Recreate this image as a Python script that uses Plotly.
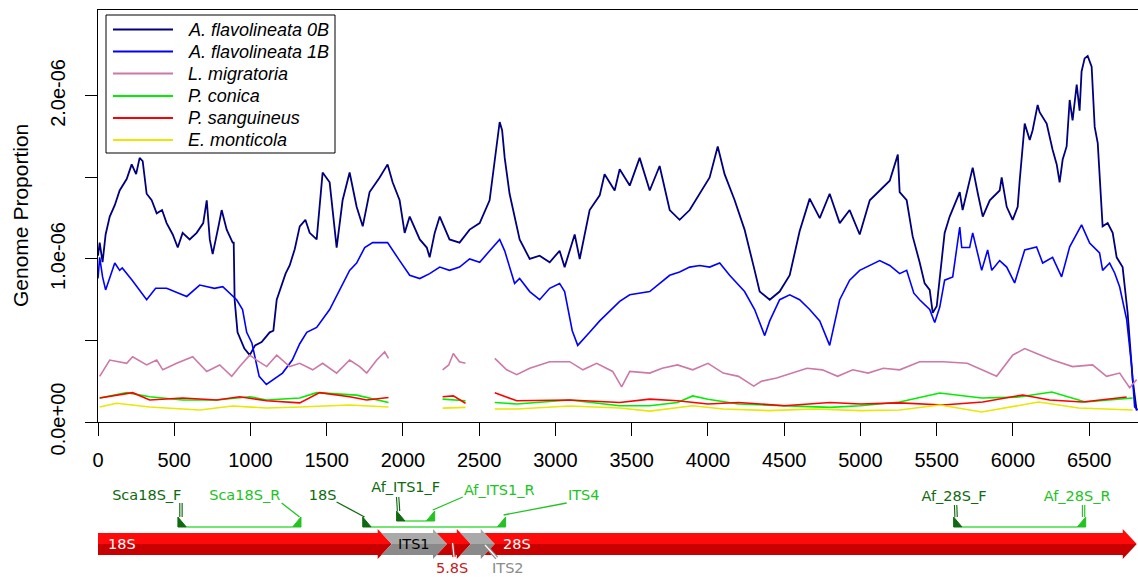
import plotly.graph_objects as go

SCALE = 1e-6  # values below are in units of 1e-6

SERIES_NAMES = ["A. flavolineata 0B", "A. flavolineata 1B", "L. migratoria",
                "P. conica", "P. sanguineus", "E. monticola"]
SERIES_COLORS = ["#00007f", "#0000ff", "#cc79a7", "#00ee00", "#ff0000", "#e8e800"]
SERIES_WIDTHS = [1.8, 1.6, 1.6, 1.6, 1.6, 1.6]

X_0B = [0, 11, 30, 50, 77, 110, 142, 188, 221, 250, 273, 293, 319, 352, 385, 420, 450, 490,
        523, 555, 601, 647, 690, 713, 733, 752, 790, 811, 844, 883, 890, 896, 915, 960, 995,
        1030, 1073, 1126, 1150, 1172, 1230, 1257, 1290, 1323, 1360, 1388, 1434, 1473, 1519,
        1540, 1565, 1604, 1650, 1696, 1736, 1781, 1847, 1899, 1932, 1978, 2011, 2044, 2110,
        2156, 2175, 2208, 2241, 2305, 2371, 2437, 2503, 2568, 2601, 2634, 2650, 2667, 2699,
        2732, 2765, 2831, 2896, 2962, 3027, 3060, 3126, 3159, 3224, 3290, 3322, 3388, 3421,
        3487, 3552, 3618, 3683, 3749, 3814, 3880, 3946, 4011, 4064, 4109, 4175, 4240, 4306,
        4339, 4405, 4470, 4536, 4601, 4667, 4733, 4798, 4864, 4929, 4995, 5061, 5126, 5192,
        5245, 5257, 5303, 5342, 5388, 5421, 5454, 5474, 5500, 5532, 5552, 5585, 5618, 5651,
        5670, 5736, 5770, 5802, 5848, 5913, 5926, 5959, 5998, 6031, 6044, 6077, 6110, 6129,
        6162, 6175, 6221, 6260, 6287, 6306, 6326, 6352, 6372, 6391, 6418, 6437, 6450, 6470,
        6490, 6516, 6536, 6556, 6588, 6621, 6654, 6680, 6719, 6752, 6785, 6811]
Y_0B = [1.02, 1.10, 0.98, 1.15, 1.26, 1.33, 1.42, 1.49, 1.58, 1.52, 1.62, 1.60, 1.40, 1.36,
        1.28, 1.30, 1.22, 1.15, 1.07, 1.16, 1.12, 1.16, 1.22, 1.36, 1.12, 1.03, 1.20, 1.30,
        1.18, 1.10, 1.10, 0.75, 0.55, 0.45, 0.41, 0.47, 0.49, 0.55, 0.56, 0.75, 0.91, 0.96,
        1.06, 1.20, 1.24, 1.16, 1.12, 1.53, 1.47, 1.30, 1.07, 1.36, 1.53, 1.32, 1.20, 1.41,
        1.50, 1.58, 1.47, 1.36, 1.16, 1.26, 1.12, 1.07, 1.01, 1.16, 1.26, 1.12, 1.10, 1.18,
        1.22, 1.36, 1.60, 1.84, 1.79, 1.62, 1.40, 1.25, 1.12, 1.00, 1.02, 0.98, 1.05, 0.95,
        1.15, 1.00, 1.30, 1.39, 1.52, 1.42, 1.55, 1.45, 1.62, 1.42, 1.57, 1.30, 1.24, 1.30,
        1.40, 1.50, 1.69, 1.52, 1.36, 1.18, 0.93, 0.80, 0.75, 0.80, 0.90, 1.17, 1.37, 1.25,
        1.40, 1.22, 1.30, 1.15, 1.36, 1.42, 1.48, 1.64, 1.41, 1.36, 1.14, 0.98, 0.85, 0.81,
        0.67, 0.71, 0.98, 1.16, 1.26, 1.34, 1.41, 1.30, 1.56, 1.40, 1.26, 1.36, 1.42, 1.50,
        1.32, 1.24, 1.32, 1.48, 1.83, 1.73, 1.79, 1.945, 1.90, 1.83, 1.67, 1.58, 1.47, 1.61,
        1.69, 1.975, 1.85, 2.07, 1.91, 2.15, 2.23, 2.245, 2.18, 1.81, 1.71, 1.20, 1.22, 1.16,
        1.01, 0.95, 0.67, 0.26, 0.07]

X_1B = [0, 11, 30, 50, 110, 142, 159, 224, 319, 378, 450, 582, 667, 764, 818, 883, 909, 948,
        975, 1009, 1057, 1104, 1210, 1274, 1323, 1369, 1434, 1519, 1585, 1650, 1696, 1749,
        1801, 1899, 1978, 2044, 2110, 2175, 2241, 2305, 2371, 2437, 2503, 2568, 2634, 2667,
        2699, 2732, 2765, 2831, 2896, 2962, 3027, 3060, 3110, 3146, 3224, 3290, 3421, 3487,
        3618, 3749, 3814, 3880, 3946, 4011, 4077, 4142, 4240, 4306, 4372, 4405, 4470, 4536,
        4601, 4667, 4733, 4798, 4864, 4929, 4995, 5061, 5126, 5192, 5257,
        5303, 5350, 5388, 5454, 5487, 5520, 5552, 5605, 5651, 5664, 5716, 5736, 5795, 5834,
        5861, 5913, 5959, 6011, 6077, 6155, 6195, 6260, 6319, 6372, 6450, 6503, 6568, 6588,
        6634, 6667, 6700, 6746, 6779, 6798, 6818]
Y_1B = [0.88, 1.01, 0.89, 0.81, 0.975, 0.93, 0.945, 0.87, 0.75, 0.82, 0.82, 0.77, 0.84,
        0.82, 0.83, 0.77, 0.75, 0.69, 0.55, 0.485, 0.28, 0.23, 0.30, 0.38, 0.48, 0.55, 0.58,
        0.69, 0.81, 0.93, 0.975, 1.07, 1.10, 1.10, 0.99, 0.90, 0.88, 0.91, 0.95, 0.93, 0.95,
        1.00, 0.98, 1.05, 1.12, 1.05, 0.95, 0.85, 0.88, 0.80, 0.75, 0.82, 0.85, 0.80, 0.56,
        0.47, 0.55, 0.62, 0.74, 0.78, 0.80, 0.90, 0.92, 0.95, 0.96, 0.95, 0.975, 0.90, 0.80,
        0.69, 0.53, 0.62, 0.75, 0.78, 0.75, 0.69, 0.62, 0.47, 0.75, 0.87, 0.93, 0.96, 0.99,
        0.96, 0.91,
        0.93, 0.79, 0.75, 0.69, 0.61, 0.705, 0.87, 0.89, 1.196,
        1.07, 1.07, 1.16, 0.93, 1.055, 0.93, 0.99, 0.95, 0.853, 1.055, 1.074, 0.975, 1.01,
        0.89, 1.074, 1.209, 1.098, 1.037, 0.93, 0.975, 0.914, 0.828, 0.626, 0.337, 0.092,
        0.074]

X_LM = [11, 77, 188, 227, 319, 385, 425, 516, 621, 713, 798, 877, 929, 995, 1040, 1106, 1172,
        1257, 1323, 1408, 1473, 1565, 1650, 1716, 1762, 1828, 1880, 1905, None,
        2260, 2300, 2330, 2370, 2410, None,
        2602, 2680, 2746, 2831, 2962, 3093, 3180, 3270, 3375, 3434, 3487, 3618, 3700, 3800,
        3900, 4000, 4100, 4200, 4300, 4350, 4450, 4550, 4650, 4750, 4850, 4950, 5050, 5150,
        5257, 5388, 5540, 5700, 5893, 5998, 6077, 6155, 6260, 6391, 6522, 6614, 6700, 6765,
        6811]
Y_LM = [0.28, 0.38, 0.36, 0.40, 0.35, 0.38, 0.32, 0.36, 0.40, 0.31, 0.35, 0.28, 0.34, 0.41,
        0.38, 0.34, 0.41, 0.34, 0.36, 0.32, 0.36, 0.30, 0.38, 0.34, 0.30, 0.38, 0.43, 0.39,
        None,
        0.32, 0.35, 0.42, 0.37, 0.36, None,
        0.39, 0.32, 0.29, 0.33, 0.37, 0.37, 0.32, 0.36, 0.31, 0.215, 0.31, 0.30, 0.33, 0.35,
        0.32, 0.36, 0.30, 0.28, 0.22, 0.25, 0.27, 0.30, 0.33, 0.32, 0.28, 0.32, 0.30, 0.33,
        0.32, 0.37, 0.37, 0.36, 0.28, 0.41, 0.45, 0.42, 0.38, 0.34, 0.35, 0.28, 0.30, 0.21,
        0.26]

X_PC = [11, 188, 339, 555, 778, 995, 1106, 1323, 1434, 1696, 1905, None, 2260, 2410, None,
        2602, 2746, 3093, 3421, 3618, 3800, 3900, 4000, 4200, 4500, 4800, 5000, 5257, 5520,
        5795, 6037, 6255, 6475, 6785]
Y_PC = [0.147, 0.18, 0.155, 0.135, 0.135, 0.155, 0.135, 0.147, 0.18, 0.165, 0.12, None,
        0.14, 0.13, None,
        0.12, 0.11, 0.135, 0.10, 0.10, 0.12, 0.16, 0.14, 0.11, 0.10, 0.09, 0.10, 0.123, 0.178,
        0.147, 0.153, 0.184, 0.123, 0.147]

X_PS = [11, 227, 339, 555, 778, 929, 1106, 1323, 1454, 1650, 1762, 1905, None,
        2260, 2330, 2410, None,
        2602, 2746, 3093, 3421, 3618, 3800, 4000, 4200, 4500, 4800, 5000, 5257, 5540, 5802,
        6064, 6241, 6457, 6746]
Y_PS = [0.147, 0.18, 0.135, 0.147, 0.135, 0.155, 0.13, 0.117, 0.18, 0.155, 0.135, 0.15, None,
        0.155, 0.16, 0.115, None,
        0.18, 0.13, 0.135, 0.12, 0.14, 0.13, 0.11, 0.12, 0.10, 0.12, 0.11, 0.117, 0.104,
        0.123, 0.166, 0.135, 0.123, 0.153]

X_EM = [11, 122, 339, 667, 883, 1106, 1323, 1650, 1905, None, 2260, 2410, None,
        2602, 2746, 3093, 3421, 3618, 3900, 4100, 4400, 4700, 5000, 5257, 5520, 5795, 6168,
        6431, 6785]
Y_EM = [0.092, 0.115, 0.092, 0.074, 0.098, 0.086, 0.092, 0.104, 0.092, None, 0.085, 0.09,
        None,
        0.08, 0.08, 0.098, 0.086, 0.067, 0.10, 0.08, 0.07, 0.08, 0.07, 0.074, 0.104, 0.061,
        0.123, 0.086, 0.074]

X_TICKS = list(range(0, 7000, 500))
Y_TICKS = [0.0, 0.5, 1.0, 1.5, 2.0]
Y_TICK_TEXT = ["0.0e+00", "", "1.0e-06", "", "2.0e-06"]

# Sequence features (bp)
FEAT_NAMES = ["18S", "ITS1", "5.8S", "ITS2", "28S"]
FEAT_START = [0, 1926, 2289, 2445, 2602]
FEAT_END = [1926, 2289, 2445, 2602, 6812]
FEAT_KIND = ["rRNA", "spacer", "rRNA", "spacer", "rRNA"]

# Primers (bp of 5' end) and direction
PRIMER_NAMES = ["Sca18S_F", "Sca18S_R", "18S", "Af_ITS1_F", "Af_ITS1_R", "ITS4",
                "Af_28S_F", "Af_28S_R"]
PRIMER_SITE = [524, 1331, 1736, 1958, 2208, 2673, 5611, 6477]
PRIMER_DIR = ["F", "R", "F", "F", "R", "R", "F", "R"]
PRIMER_PAIRS = [("Sca18S_F", "Sca18S_R"), ("18S", "ITS4"), ("Af_ITS1_F", "Af_ITS1_R"),
                ("Af_28S_F", "Af_28S_R")]

# ---------------------------------------------------------------- styles / layout
W, H = 1138, 577
ML, MT = 98, 10
PW_PX, PH_PX = W - ML, H - MT
X_MAX = 6820
Y_MAX = 2.527
FONT = "Liberation Sans, Arial, Helvetica, sans-serif"
TFONT = "DejaVu Sans, sans-serif"
DARK_G = "#0f6a0f"
BRIGHT_G = "#22c322"
LINK_G = "#44dd44"


def px(xp):
    return (xp - ML) / PW_PX


def py(yp):
    return (H - yp) / PH_PX


fig = go.Figure()

xs_all = [X_0B, X_1B, X_LM, X_PC, X_PS, X_EM]
ys_all = [Y_0B, Y_1B, Y_LM, Y_PC, Y_PS, Y_EM]
for name, col, lw, xs, ys in zip(SERIES_NAMES, SERIES_COLORS, SERIES_WIDTHS, xs_all, ys_all):
    fig.add_trace(go.Scatter(
        x=xs, y=[None if v is None else v * SCALE for v in ys], mode="lines",
        name=name, line=dict(color=col, width=lw), connectgaps=False,
        hoverinfo="skip", showlegend=False))

shapes = []
annotations = []

# ---- manual legend (R-style box)
shapes.append(dict(type="rect", xref="paper", yref="paper", x0=px(106), x1=px(335),
                   y0=py(153), y1=py(15), line=dict(color="black", width=1),
                   fillcolor="white", layer="above"))
LEG_ROWS = [29.5, 51.5, 73.5, 96, 118, 140]
for name, col, r in zip(SERIES_NAMES, SERIES_COLORS, LEG_ROWS):
    shapes.append(dict(type="line", xref="paper", yref="paper", x0=px(113), x1=px(173),
                       y0=py(r), y1=py(r), line=dict(color=col, width=2), layer="above"))
    annotations.append(dict(x=px(186), y=py(r), xref="paper", yref="paper", text=name,
                            showarrow=False, xanchor="left", yanchor="middle",
                            font=dict(family=FONT, size=18, color="black", style="italic")))

# y-axis title
annotations.append(dict(x=px(20), y=py(216), xref="paper", yref="paper",
                        text="Genome Proportion", showarrow=False, textangle=-90,
                        xanchor="center", yanchor="middle",
                        font=dict(family=FONT, size=21, color="black")))

# ---- feature track (y2 units: minus screen pixel row)
C = -544
BH = 11
HH = 15
HEAD = 92  # bp


def arrow_half(s, e, notch, upper):
    sgn = 1 if upper else -1
    body = C + sgn * BH
    head = C + sgn * HH
    lx = s - HEAD * BH / HH if notch else s
    pts = [(lx, body), (e - HEAD, body), (e - HEAD, head), (e, C), (s, C)]
    return "M" + " L".join(f"{x},{y}" for x, y in pts) + " Z"


fill_up = {"rRNA": "#ff0a0a", "spacer": "#a9a9a9"}
fill_lo = {"rRNA": "#c80000", "spacer": "#8a8a8a"}
for i, (s, e, k) in enumerate(zip(FEAT_START, FEAT_END, FEAT_KIND)):
    notch = i > 0
    for upper in (True, False):
        shapes.append(dict(type="path", xref="x", yref="y2",
                           path=arrow_half(s, e, notch, upper),
                           fillcolor=fill_up[k] if upper else fill_lo[k],
                           line=dict(width=0), layer="above"))

# primer links
BASE = {"Af_ITS1_F": -521, "Af_ITS1_R": -521}
site = dict(zip(PRIMER_NAMES, PRIMER_SITE))
pdir = dict(zip(PRIMER_NAMES, PRIMER_DIR))
PW = 55  # glyph width bp
PH = 10
for a, b in PRIMER_PAIRS:
    yb = BASE.get(a, -527)
    shapes.append(dict(type="line", xref="x", yref="y2", x0=site[a] + PW, x1=site[b] - PW,
                       y0=yb, y1=yb, line=dict(color=LINK_G, width=1.5), layer="above"))

# primer glyphs
for n in PRIMER_NAMES:
    yb = BASE.get(n, -527)
    s = site[n]
    if pdir[n] == "F":
        pts = [(s, yb), (s, yb + PH), (s + PW, yb)]
        col = DARK_G
    else:
        pts = [(s, yb), (s, yb + PH), (s - PW, yb)]
        col = BRIGHT_G
    shapes.append(dict(type="path", xref="x", yref="y2",
                       path="M" + " L".join(f"{x},{y}" for x, y in pts) + " Z",
                       fillcolor=col, line=dict(color=col, width=1), layer="above"))

# label positions (layout): bp x, screen row
LBL_POS = {"Sca18S_F": (320, -496), "Sca18S_R": (962, -496), "18S": (1473, -496),
           "Af_ITS1_F": (2018, -488), "Af_ITS1_R": (2631, -491), "ITS4": (3185, -496),
           "Af_28S_F": (5614, -497), "Af_28S_R": (6421, -497)}
CALLOUT = {"Sca18S_F": ((544, -503), (544, -517)),
           "Sca18S_R": ((1204, -503), (1322, -517)),
           "18S": ((1565, -502), (1748, -517)),
           "Af_ITS1_F": ((1965, -497), (1971, -511)),
           "Af_ITS1_R": ((2392, -497), (2195, -510)),
           "ITS4": ((3073, -503), (2660, -515)),
           "Af_28S_F": ((5624, -505), (5627, -517)),
           "Af_28S_R": ((6463, -505), (6463, -517))}


def double_line(p0, p1, col):
    return [dict(type="line", xref="x", yref="y2", x0=p0[0], y0=p0[1], x1=p1[0], y1=p1[1],
                 line=dict(color=col, width=3.5), layer="above"),
            dict(type="line", xref="x", yref="y2", x0=p0[0], y0=p0[1], x1=p1[0], y1=p1[1],
                 line=dict(color="white", width=1.2), layer="above")]


for n in PRIMER_NAMES:
    col = DARK_G if pdir[n] == "F" else BRIGHT_G
    p0, p1 = CALLOUT[n]
    if abs(p0[0] - p1[0]) < 20:
        shapes += double_line(p0, p1, col)
    else:
        shapes.append(dict(type="line", xref="x", yref="y2", x0=p0[0], y0=p0[1],
                           x1=p1[0], y1=p1[1], line=dict(color=col, width=1.3),
                           layer="above"))

# feature callouts (5.8S, ITS2)
shapes += double_line((2325, -543), (2335, -557), "#c42020")
shapes += double_line((2538, -545), (2615, -558), "#8a8a8a")

fig.add_trace(go.Scatter(
    x=[LBL_POS[n][0] for n in PRIMER_NAMES], y=[LBL_POS[n][1] for n in PRIMER_NAMES],
    text=PRIMER_NAMES, mode="text", yaxis="y2", showlegend=False, hoverinfo="skip",
    textfont=dict(family=TFONT, size=14.5,
                  color=[DARK_G if pdir[n] == "F" else BRIGHT_G for n in PRIMER_NAMES])))

# feature labels
FEAT_LBL = {"18S": (50, -544, "white", "left"), "ITS1": (1955, -544, "black", "left"),
            "5.8S": (2323, -568, "#c42020", "center"), "ITS2": (2687, -568, "#8a8a8a", "center"),
            "28S": (2640, -544, "white", "left")}
for n in FEAT_NAMES:
    x, y, col, al = FEAT_LBL[n]
    annotations.append(dict(x=x, y=y, xref="x", yref="y2", text=n, showarrow=False,
                            xanchor=al, yanchor="middle",
                            font=dict(family=TFONT, size=14.5, color=col)))

fig.update_layout(
    width=W, height=H,
    margin=dict(l=ML, r=0, t=MT, b=0, autoexpand=False),
    paper_bgcolor="white", plot_bgcolor="white",
    shapes=shapes, annotations=annotations,
    showlegend=False,
    xaxis=dict(range=[0, X_MAX], tickvals=X_TICKS, ticks="outside", ticklen=13,
               tickwidth=1, tickcolor="black", showline=True, linecolor="black",
               linewidth=1, mirror=True, showgrid=False, zeroline=False,
               tickfont=dict(family=FONT, size=20, color="black"),
               ticklabelstandoff=7, anchor="y", automargin=False),
    yaxis=dict(domain=[(H - 422) / PH_PX, 1], range=[0, Y_MAX * SCALE],
               tickvals=[v * SCALE for v in Y_TICKS], ticktext=Y_TICK_TEXT,
               ticks="outside", ticklen=12, tickwidth=1, tickcolor="black",
               showline=True, linecolor="black", linewidth=1, showgrid=False,
               zeroline=False, tickangle=-90, ticklabelstandoff=12,
               tickfont=dict(family=FONT, size=20, color="black"),
               anchor="x", automargin=False),
    yaxis2=dict(domain=[0, (H - 422) / PH_PX], range=[-H, -422], visible=False,
                anchor="x", fixedrange=True),
)

fig.write_html("out.html", config={"displayModeBar": False},
               post_script="document.body.style.margin='0px';"
                           "document.body.style.overflow='hidden';")
